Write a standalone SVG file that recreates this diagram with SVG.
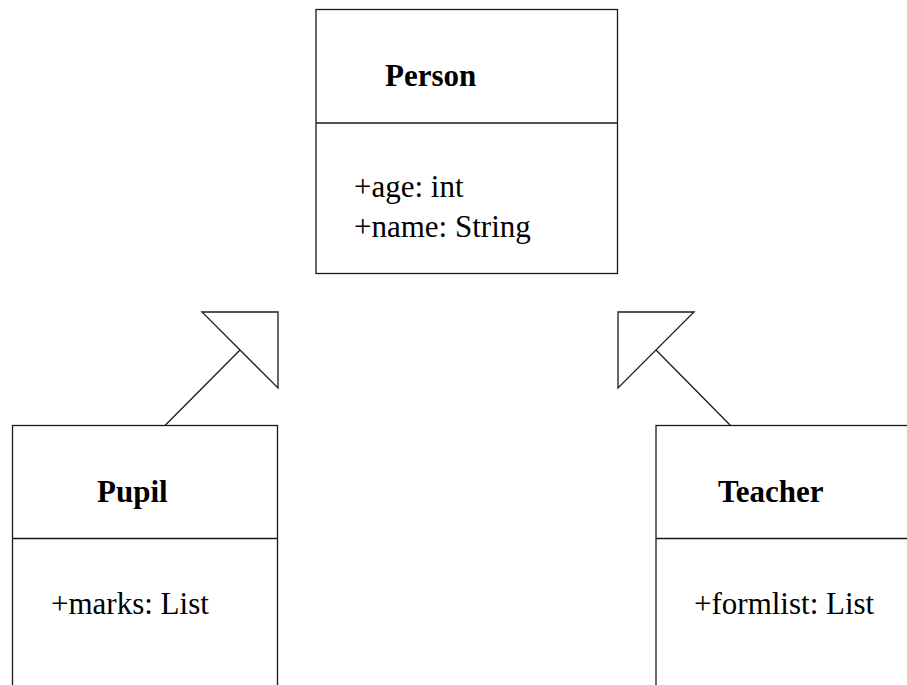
<svg xmlns="http://www.w3.org/2000/svg" width="907" height="685" viewBox="0 0 907 685">
  <style>
    .box { fill: #ffffff; stroke: #1a1a1a; stroke-width: 1.3; }
    .div { stroke: #1a1a1a; stroke-width: 1.3; }
    .title { font-family: "Liberation Serif", "Times New Roman", serif; font-weight: bold; font-size: 31px; fill: #000; }
    .attr { font-family: "Liberation Serif", "Times New Roman", serif; font-size: 31px; fill: #000; }
    .conn { fill: none; stroke: #1a1a1a; stroke-width: 1.3; }
    .head { fill: #ffffff; stroke: #1a1a1a; stroke-width: 1.3; stroke-linejoin: miter; }
  </style>
  <rect width="907" height="685" fill="#ffffff"/>

  <!-- generalization connectors -->
  <g id="connectors">
    <line class="conn" x1="164.5" y1="426" x2="240" y2="350"/>
    <polygon class="head" points="202,312 278,312 278,388"/>
    <line class="conn" x1="731" y1="426" x2="656" y2="350"/>
    <polygon class="head" points="618,312 694,312 618,388"/>
  </g>

  <!-- base class -->
  <g id="person">
    <rect class="box" x="316" y="9.5" width="301.5" height="264"/>
    <line class="div" x1="316" y1="123" x2="617.5" y2="123"/>
    <text class="title" x="385" y="86">Person</text>
    <text class="attr" x="354" y="197">+age: int</text>
    <text class="attr" x="354" y="237">+name: String</text>
  </g>

  <!-- subclass Pupil -->
  <g id="pupil">
    <rect class="box" x="12.5" y="425.5" width="265" height="280"/>
    <line class="div" x1="12.5" y1="538.5" x2="277.5" y2="538.5"/>
    <text class="title" x="97" y="502">Pupil</text>
    <text class="attr" x="51" y="614">+marks: List</text>
  </g>

  <!-- subclass Teacher -->
  <g id="teacher">
    <rect class="box" x="656" y="425.5" width="270" height="280"/>
    <line class="div" x1="656" y1="538.5" x2="926" y2="538.5"/>
    <text class="title" x="718" y="502">Teacher</text>
    <text class="attr" x="694" y="614">+formlist: List</text>
  </g>
</svg>
